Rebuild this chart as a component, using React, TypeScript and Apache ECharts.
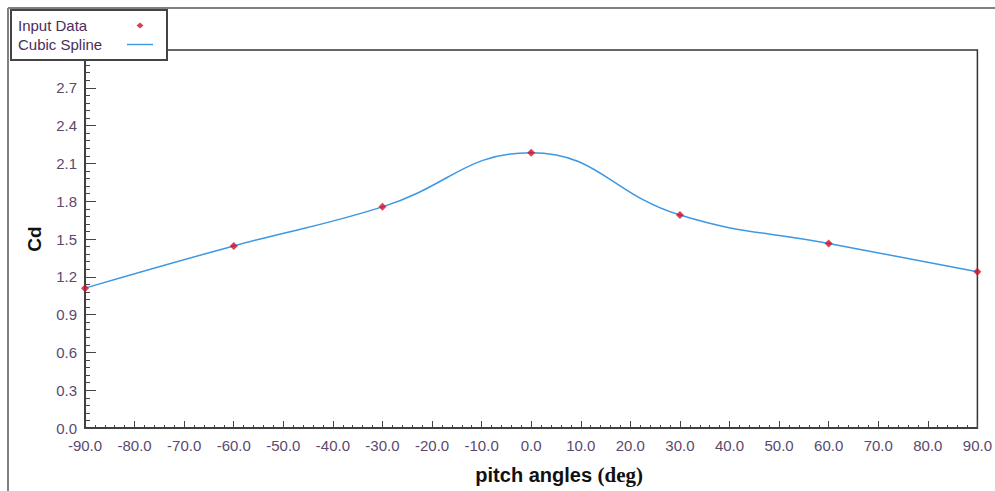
import React, { useEffect, useRef } from "react";
import * as echarts from "echarts";

// Pitch angle (deg) and drag coefficient samples
const pitchAngles: number[] = [-90, -60, -30, 0, 30, 60, 90];
const cdValues: number[] = [1.11, 1.445, 1.755, 2.185, 1.69, 1.465, 1.24];

const seriesNames: string[] = ["Input Data", "Cubic Spline"];
const xAxisTitle = "pitch angles ";
const xAxisUnit = "(deg)";
const yAxisTitle = "Cd";

const LABEL_COLOR = "#5a4a6e";
const SANS = "'Liberation Sans', Arial, sans-serif";
const SERIF = "'Liberation Serif', 'Times New Roman', serif";

// Legend icons: degenerate corner points pin the bounding box to 26x8 so the
// glyphs keep their own proportions inside the icon slot.
const DIAMOND_ICON = "path://M0,0L0,0M26,8L26,8M13,1L16.5,4L13,7L9.5,4Z";
const LINE_ICON = "path://M0,0L0,0M26,8L26,8M0,3.3L26,3.3L26,4.7L0,4.7Z";

export default function App() {
  const ref = useRef<HTMLDivElement>(null);

  useEffect(() => {
    if (!ref.current) return;
    const chart = echarts.init(ref.current, undefined, { renderer: "svg" });
    const pts = pitchAngles.map((a, i) => [a, cdValues[i]]);

    chart.setOption({
      animation: false,
      backgroundColor: "#ffffff",
      grid: {
        left: 85,
        right: 13,
        top: 50,
        bottom: 63,
        show: true,
        borderColor: "#333",
        borderWidth: 1.5,
        backgroundColor: "transparent",
      },
      legend: {
        orient: "vertical",
        align: "right",
        left: 11,
        top: 10,
        padding: [8, 14, 8, 7],
        itemGap: 4,
        itemWidth: 26,
        itemHeight: 8,
        backgroundColor: "#ffffff",
        borderColor: "#444",
        borderWidth: 2,
        borderRadius: 0,
        data: [
          { name: seriesNames[0], icon: DIAMOND_ICON, itemStyle: { color: "#d0102a" } },
          { name: seriesNames[1], icon: LINE_ICON, itemStyle: { color: "#3d98e3" } },
        ],
        formatter: "{t|{name}}",
        textStyle: {
          rich: {
            t: {
              width: 104,
              align: "left",
              fontSize: 15,
              lineHeight: 16,
              fontFamily: SANS,
              color: "#4a2d5c",
            },
          },
        },
      },
      graphic: [
        {
          type: "line",
          shape: { x1: 8, y1: 8, x2: 995, y2: 8 },
          style: { stroke: "#808080", lineWidth: 2 },
          z: 0,
        },
        {
          type: "line",
          shape: { x1: 8, y1: 8, x2: 8, y2: 491 },
          style: { stroke: "#808080", lineWidth: 2 },
          z: 0,
        },
      ],
      xAxis: {
        type: "value",
        min: -90,
        max: 90,
        interval: 10,
        name: `{a|${xAxisTitle}}{b|${xAxisUnit}}`,
        nameLocation: "middle",
        nameGap: 36,
        nameTextStyle: {
          padding: [0, 0, 0, 56],
          rich: {
            a: { fontFamily: SANS, fontWeight: "bold", fontSize: 20, color: "#111" },
            b: { fontFamily: SERIF, fontWeight: "bold", fontSize: 21, color: "#111" },
          },
        },
        axisLine: { show: true, onZero: false, lineStyle: { color: "#333", width: 1.5 } },
        axisTick: { show: true, inside: true, length: 7, lineStyle: { color: "#444" } },
        minorTick: { show: true, splitNumber: 5, length: 3, lineStyle: { color: "#444" } },
        splitLine: { show: false },
        axisLabel: {
          margin: 10,
          fontSize: 15,
          fontFamily: SANS,
          color: LABEL_COLOR,
          formatter: (v: number) => v.toFixed(1),
        },
      },
      yAxis: {
        type: "value",
        min: 0,
        max: 3.0,
        interval: 0.3,
        name: yAxisTitle,
        nameLocation: "middle",
        nameGap: 41,
        nameTextStyle: { fontFamily: SANS, fontWeight: "bold", fontSize: 19, color: "#111" },
        axisLine: { show: true, onZero: false, lineStyle: { color: "#333", width: 1.5 } },
        axisTick: { show: true, inside: true, length: 11, lineStyle: { color: "#444" } },
        minorTick: { show: true, splitNumber: 5, length: 5, lineStyle: { color: "#444" } },
        splitLine: { show: false },
        axisLabel: {
          margin: 8,
          fontSize: 15,
          fontFamily: SANS,
          color: LABEL_COLOR,
          showMaxLabel: false,
          formatter: (v: number) => v.toFixed(1),
        },
      },
      series: [
        {
          name: seriesNames[1],
          type: "line",
          data: pts,
          smooth: 0.45,
          symbol: "none",
          lineStyle: { color: "#3d98e3", width: 1.5 },
          itemStyle: { color: "#3d98e3" },
          z: 2,
        },
        {
          name: seriesNames[0],
          type: "scatter",
          data: pts,
          symbol: "diamond",
          symbolSize: 8,
          itemStyle: { color: "#d0102a" },
          z: 3,
        },
      ],
    });

    return () => chart.dispose();
  }, []);

  return (
    <div
      ref={ref}
      style={{ position: "fixed", left: 0, top: 0, width: 995, height: 491 }}
    />
  );
}
